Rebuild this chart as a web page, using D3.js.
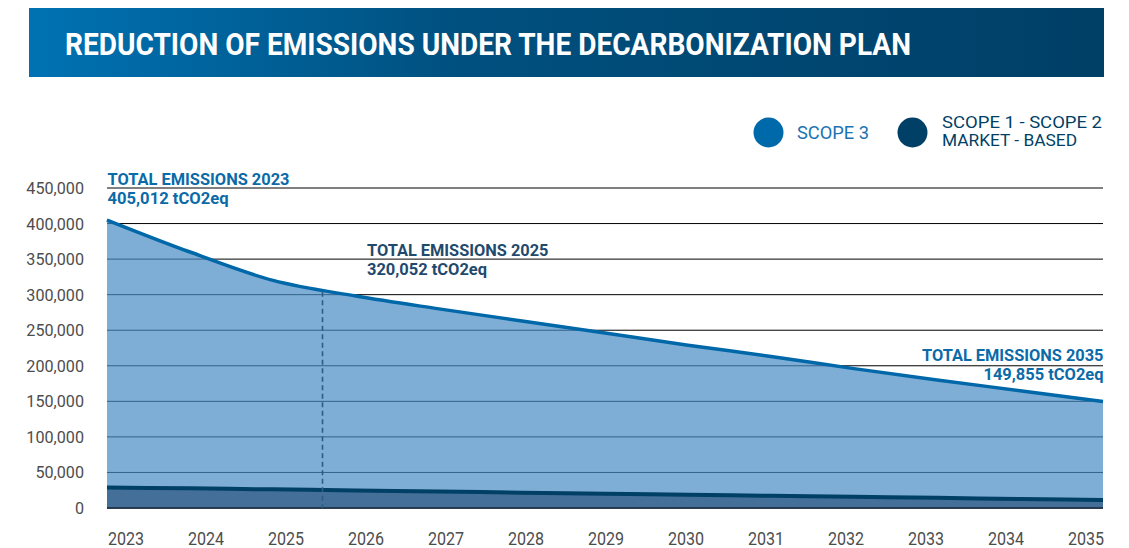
<!DOCTYPE html>
<html>
<head>
<meta charset="utf-8">
<script src="https://cdn.jsdelivr.net/npm/d3@7"></script>
<style>
  html, body { margin: 0; padding: 0; background: #ffffff; }
  svg { display: block; font-family: Roboto, "Open Sans", "DejaVu Sans", sans-serif; }
</style>
</head>
<body>
<svg id="chart" width="1129" height="548"></svg>
<script>
// ---- data -------------------------------------------------------------
const years = [2023, 2024, 2025, 2026, 2027, 2028, 2029, 2030, 2031, 2032, 2033, 2034, 2035];
// total emissions (Scope 1 + Scope 2 market-based + Scope 3), tCO2eq
const totalEmissions = [405012, 360000, 320052, 298000, 280000, 263000, 246000, 229000, 213000, 196000, 180000, 165000, 149855];
// Scope 1 - Scope 2 market-based, tCO2eq
const scope12Emissions = [29000, 27600, 26200, 24700, 23200, 21600, 20100, 18600, 17200, 15800, 14300, 12700, 11200];
const yTickValues = [0, 50000, 100000, 150000, 200000, 250000, 300000, 350000, 400000, 450000];
const titleText = "REDUCTION OF EMISSIONS UNDER THE DECARBONIZATION PLAN";
const legendLabels = [["SCOPE 3"], ["SCOPE 1 - SCOPE 2", "MARKET - BASED"]];
const calloutYears = [2023, 2025, 2035];

// ---- layout -----------------------------------------------------------
const plot = { left: 107, right: 1103, top: 188, bottom: 508 };
const colors = {
  scope3Fill: "rgb(71,139,196)",
  totalLine: "#0068a8",
  scope12Fill: "#436f98",
  scope12Line: "#003f66",
  grid: "#000000",
  axisText: "#4d4d4d",
  legend3: "#1a73b3",
  legend12: "#003f66",
  calloutBlue: "#0b6aa8",
  calloutDark: "#1f4a6e",
  marker: "#2b5c82"
};

const svg = d3.select("#chart");
const fmt = d3.format(",");

// ---- title banner -----------------------------------------------------
const defs = svg.append("defs");
const grad = defs.append("linearGradient").attr("id", "bannerGrad")
  .attr("x1", "0%").attr("x2", "100%").attr("y1", "0%").attr("y2", "0%");
grad.append("stop").attr("offset", "0%").attr("stop-color", "#0072b3");
grad.append("stop").attr("offset", "40%").attr("stop-color", "#00507f");
grad.append("stop").attr("offset", "100%").attr("stop-color", "#003f66");

svg.append("rect")
  .attr("x", 29).attr("y", 8).attr("width", 1075).attr("height", 69)
  .attr("fill", "url(#bannerGrad)");

svg.append("text")
  .attr("x", 65).attr("y", 55)
  .attr("font-size", 31).attr("font-weight", 700).attr("fill", "#ffffff")
  .attr("textLength", 846).attr("lengthAdjust", "spacingAndGlyphs")
  .text(titleText);

// ---- scales -----------------------------------------------------------
const x = d3.scaleLinear().domain(d3.extent(years)).range([plot.left, plot.right]);
const xLabel = d3.scalePoint().domain(years).range([125.5, 1085.5]);
const y = d3.scaleLinear().domain([0, 450000]).range([plot.bottom, plot.top]);

const rows = years.map((yr, i) => ({ year: yr, total: totalEmissions[i], s12: scope12Emissions[i] }));

// ---- grid -------------------------------------------------------------
svg.append("g").selectAll("line")
  .data(yTickValues)
  .join("line")
  .attr("x1", plot.left).attr("x2", plot.right)
  .attr("y1", d => y(d)).attr("y2", d => y(d))
  .attr("stroke", colors.grid).attr("stroke-width", 1);

// ---- areas ------------------------------------------------------------
const curve = d3.curveMonotoneX;

svg.append("path")
  .datum(rows)
  .attr("d", d3.area().curve(curve).x(d => x(d.year)).y0(y(0)).y1(d => y(d.total)))
  .attr("fill", colors.scope3Fill).attr("fill-opacity", 0.7);

svg.append("path")
  .datum(rows)
  .attr("d", d3.area().curve(curve).x(d => x(d.year)).y0(y(0)).y1(d => y(d.s12)))
  .attr("fill", colors.scope12Fill);

svg.append("path")
  .datum(rows)
  .attr("d", d3.line().curve(curve).x(d => x(d.year)).y(d => y(d.s12)))
  .attr("fill", "none").attr("stroke", colors.scope12Line).attr("stroke-width", 4);

svg.append("path")
  .datum(rows)
  .attr("d", d3.line().curve(curve).x(d => x(d.year)).y(d => y(d.total)))
  .attr("fill", "none").attr("stroke", colors.totalLine).attr("stroke-width", 3.5)
  .attr("stroke-linejoin", "round");

// baseline
svg.append("line")
  .attr("x1", plot.left).attr("x2", plot.right)
  .attr("y1", y(0)).attr("y2", y(0))
  .attr("stroke", "#16283a").attr("stroke-width", 1.5);

// ---- end-of-2025 marker -----------------------------------------------
const markX = (xLabel(2025) + xLabel(2026)) / 2 - 3;
const markYear = x.invert(markX);
const i25 = years.indexOf(2025);
const t = markYear - 2025;
const markTotal = totalEmissions[i25] + t * (totalEmissions[i25 + 1] - totalEmissions[i25]);
svg.append("line")
  .attr("x1", markX).attr("x2", markX)
  .attr("y1", y(markTotal) + 2).attr("y2", y(0))
  .attr("stroke", colors.marker).attr("stroke-width", 1.6)
  .attr("stroke-dasharray", "5,3.5");

// ---- axes -------------------------------------------------------------
const yAxis = svg.append("g")
  .attr("transform", `translate(${plot.left},0)`)
  .call(d3.axisLeft(y).tickValues(yTickValues).tickFormat(fmt).tickSize(0).tickPadding(23));
yAxis.select(".domain").remove();
yAxis.selectAll("text")
  .attr("x", 0)
  .attr("transform", "translate(-23,0) scale(0.95,1)")
  .attr("font-size", 17).attr("font-family", "Roboto, sans-serif")
  .attr("fill", colors.axisText);

const xAxis = svg.append("g")
  .attr("transform", `translate(0,${plot.bottom})`)
  .call(d3.axisBottom(xLabel).tickSize(0).tickPadding(23.7));
xAxis.select(".domain").remove();
xAxis.selectAll("text")
  .attr("transform", "scale(0.87,1)")
  .attr("font-size", 18.5).attr("font-family", "Roboto, sans-serif")
  .attr("fill", colors.axisText);

// ---- callouts ---------------------------------------------------------
const calloutStyle = {
  2023: { x: 107.5, y1: 184.5, y2: 203.5, anchor: "start", color: colors.calloutBlue, w1: 182, w2: 121 },
  2025: { x: 367, y1: 256.2, y2: 275.2, anchor: "start", color: colors.calloutDark, w1: 181.5, w2: 120 },
  2035: { x: 1103.5, y1: 361.2, y2: 380.2, anchor: "end", color: colors.calloutBlue, w1: 181.5, w2: 120 }
};
const callouts = svg.append("g");
calloutYears.forEach(yr => {
  const s = calloutStyle[yr];
  const val = totalEmissions[years.indexOf(yr)];
  callouts.append("text")
    .attr("x", s.x).attr("y", s.y1).attr("text-anchor", s.anchor)
    .attr("font-size", 16).attr("font-weight", 700).attr("fill", s.color)
    .attr("textLength", s.w1).attr("lengthAdjust", "spacingAndGlyphs")
    .text(`TOTAL EMISSIONS ${yr}`);
  callouts.append("text")
    .attr("x", s.x).attr("y", s.y2).attr("text-anchor", s.anchor)
    .attr("font-size", 16).attr("font-weight", 700).attr("fill", s.color)
    .attr("textLength", s.w2).attr("lengthAdjust", "spacingAndGlyphs")
    .text(`${fmt(val)} tCO2eq`);
});

// ---- legend -----------------------------------------------------------
const legend = svg.append("g");
legend.append("circle").attr("cx", 768.5).attr("cy", 132.5).attr("r", 15).attr("fill", "#0069aa");
legend.append("text")
  .attr("x", 797).attr("y", 139)
  .attr("font-size", 17.5).attr("fill", colors.legend3)
  .attr("textLength", 72).attr("lengthAdjust", "spacingAndGlyphs")
  .text(legendLabels[0][0]);

legend.append("circle").attr("cx", 912.5).attr("cy", 132.5).attr("r", 15).attr("fill", colors.scope12Line);
const leg2Widths = [160, 135];
const leg2Base = [127.5, 146.3];
legendLabels[1].forEach((txt, i) => {
  legend.append("text")
    .attr("x", 942).attr("y", leg2Base[i])
    .attr("font-size", 16).attr("fill", colors.legend12)
    .attr("textLength", leg2Widths[i]).attr("lengthAdjust", "spacingAndGlyphs")
    .text(txt);
});
</script>
</body>
</html>
